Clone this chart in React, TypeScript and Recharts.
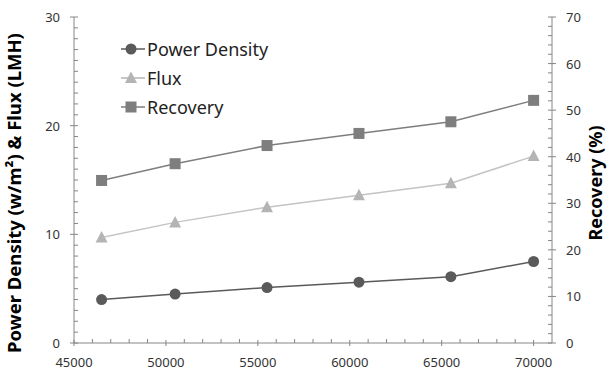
import { LineChart, Line, XAxis, YAxis } from "recharts";

const feed = [46500, 50500, 55500, 60500, 65500, 70000];
const powerDensity = [4.0, 4.5, 5.1, 5.6, 6.1, 7.5];
const flux = [9.7, 11.1, 12.5, 13.6, 14.7, 17.2];
const recovery = [34.9, 38.5, 42.4, 45.0, 47.5, 52.1];

const xMajor = [45000, 50000, 55000, 60000, 65000, 70000];
const leftMajor = [0, 10, 20, 30];
const rightMajor = [0, 10, 20, 30, 40, 50, 60, 70];

const xTicks = Array.from({ length: 26 }, (_, i) => 45000 + i * 1000);
const leftTicks = Array.from({ length: 31 }, (_, i) => i);
const rightTicks = Array.from({ length: 36 }, (_, i) => i * 2);

const data = feed.map((x, i) => ({
  x,
  power: powerDensity[i],
  flux: flux[i],
  recovery: recovery[i],
}));

const AXIS = "#868686";
const FONT = "'Noto Sans', sans-serif";
const C_POWER = "#5a5a5a";
const C_FLUX = "#b4b4b4";
const C_REC = "#7e7e7e";

const XTick = ({ x, y, payload }: any) => {
  const major = xMajor.includes(payload.value);
  return (
    <g>
      {major ? (
        <line x1={x} x2={x} y1={y - 3} y2={y + 3} stroke={AXIS} />
      ) : (
        <line x1={x} x2={x} y1={y - 4} y2={y} stroke={AXIS} />
      )}
      {major && (
        <text x={x} y={y + 24} textAnchor="middle" fontSize={13} fill="#333" fontFamily={FONT}>
          {payload.value}
        </text>
      )}
    </g>
  );
};

const LeftTick = ({ x, y, payload }: any) => {
  const major = leftMajor.includes(payload.value);
  return (
    <g>
      {major ? (
        <line x1={x - 4} x2={x + 4} y1={y} y2={y} stroke={AXIS} />
      ) : (
        <line x1={x} x2={x + 4} y1={y} y2={y} stroke={AXIS} />
      )}
      {major && (
        <text x={x - 14} y={y + 5} textAnchor="end" fontSize={13} fill="#333" fontFamily={FONT}>
          {payload.value}
        </text>
      )}
    </g>
  );
};

const RightTick = ({ x, y, payload }: any) => {
  const major = rightMajor.includes(payload.value);
  return (
    <g>
      {major ? (
        <line x1={x - 4} x2={x + 4} y1={y} y2={y} stroke={AXIS} />
      ) : (
        <line x1={x - 4} x2={x} y1={y} y2={y} stroke={AXIS} />
      )}
      {major && (
        <text x={x + 14} y={y + 5} textAnchor="start" fontSize={13} fill="#333" fontFamily={FONT}>
          {payload.value}
        </text>
      )}
    </g>
  );
};

const Marker = ({ kind, cx, cy, color }: any) => {
  if (kind === "circle") return <circle cx={cx} cy={cy} r={5.5} fill={color} />;
  if (kind === "square")
    return <rect x={cx - 5.5} y={cy - 5.5} width={11} height={11} fill={color} />;
  return (
    <polygon
      points={`${cx},${cy - 6.5} ${cx + 6},${cy + 5} ${cx - 6},${cy + 5}`}
      fill={color}
    />
  );
};

const dotFor = (kind: string, color: string) => (props: any) => (
  <Marker key={`${kind}-${props.index}`} kind={kind} cx={props.cx} cy={props.cy} color={color} />
);

const legendItems = [
  { label: "Power Density", kind: "circle", color: C_POWER },
  { label: "Flux", kind: "triangle", color: C_FLUX },
  { label: "Recovery", kind: "square", color: C_REC },
];

const LegendBox = () => (
  <div
    style={{
      position: "absolute",
      left: 121,
      top: 34,
      fontFamily: FONT,
      fontSize: 18,
      color: "#222",
    }}
  >
    {legendItems.map((it) => (
      <div key={it.label} style={{ display: "flex", alignItems: "center", height: 29 }}>
        <svg width={26} height={16}>
          <line x1={0} x2={24} y1={8} y2={8} stroke={it.color} strokeWidth={1.5} />
          <Marker kind={it.kind} cx={10} cy={8} color={it.color} />
        </svg>
        <span>{it.label}</span>
      </div>
    ))}
  </div>
);

export default function App() {
  return (
    <div style={{ position: "absolute", left: 0, top: 0, width: 611, height: 371, background: "#fff" }}>
      <LineChart
        width={611}
        height={371}
        data={data}
        margin={{ top: 17, right: 0, left: 0, bottom: 0 }}
      >
        <XAxis
          dataKey="x"
          type="number"
          domain={[45000, 71000]}
          ticks={xTicks}
          interval={0}
          tick={<XTick />}
          tickLine={false}
          tickSize={0}
          tickMargin={0}
          height={28}
          stroke={AXIS}
        />
        <YAxis
          yAxisId="left"
          domain={[0, 30]}
          ticks={leftTicks}
          interval={0}
          tick={<LeftTick />}
          tickLine={false}
          tickSize={0}
          tickMargin={0}
          width={74}
          stroke={AXIS}
          label={() => (
            <text
              x={21}
              y={193}
              transform="rotate(-90 21 193)"
              textAnchor="middle"
              fontSize={18.5}
              fontWeight="bold"
              fontFamily={FONT}
              fill="#000"
            >
              Power Density (w/m²) &amp; Flux (LMH)
            </text>
          )}
        />
        <YAxis
          yAxisId="right"
          orientation="right"
          domain={[0, 70]}
          ticks={rightTicks}
          interval={0}
          tick={<RightTick />}
          tickLine={false}
          tickSize={0}
          tickMargin={0}
          width={59}
          stroke={AXIS}
          label={() => (
            <text
              x={602}
              y={183}
              transform="rotate(-90 602 183)"
              textAnchor="middle"
              fontSize={18}
              fontWeight="bold"
              fontFamily={FONT}
              fill="#000"
            >
              Recovery (%)
            </text>
          )}
        />
        <Line
          yAxisId="left"
          dataKey="power"
          stroke={C_POWER}
          strokeWidth={1.5}
          dot={dotFor("circle", C_POWER)}
          isAnimationActive={false}
        />
        <Line
          yAxisId="left"
          dataKey="flux"
          stroke="#c4c4c4"
          strokeWidth={1.5}
          dot={dotFor("triangle", C_FLUX)}
          isAnimationActive={false}
        />
        <Line
          yAxisId="right"
          dataKey="recovery"
          stroke={C_REC}
          strokeWidth={1.5}
          dot={dotFor("square", C_REC)}
          isAnimationActive={false}
        />
      </LineChart>
      <LegendBox />
    </div>
  );
}
